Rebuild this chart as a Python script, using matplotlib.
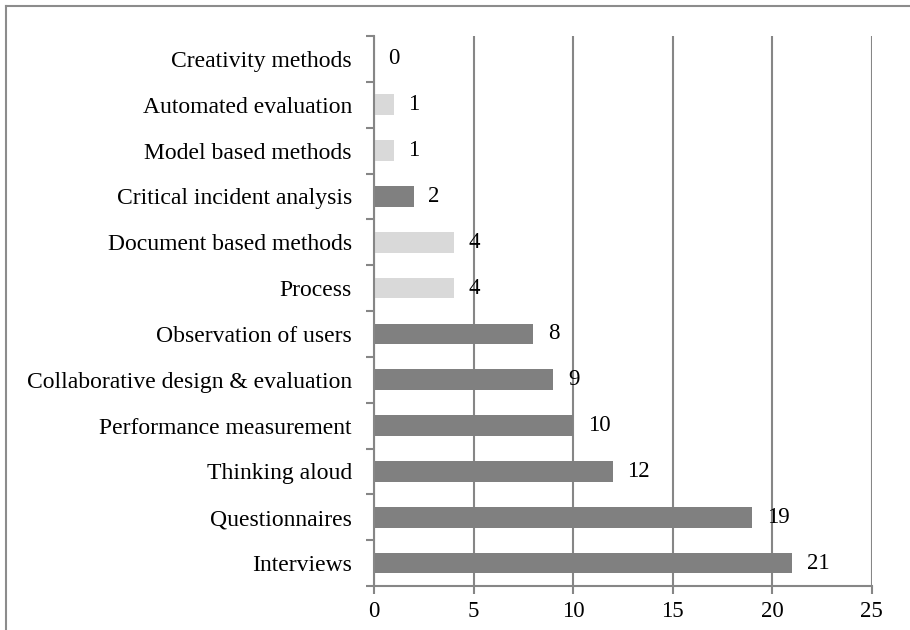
import matplotlib.pyplot as plt
from matplotlib.lines import Line2D
import numpy as np

plt.rcParams['font.family'] = ['Liberation Serif', 'DejaVu Serif']

# bottom to top
categories = ["Interviews", "Questionnaires", "Thinking aloud",
              "Performance measurement", "Collaborative design & evaluation",
              "Observation of users", "Process", "Document based methods",
              "Critical incident analysis", "Model based methods",
              "Automated evaluation", "Creativity methods"]
counts = [21, 19, 12, 10, 9, 8, 4, 4, 2, 1, 1, 0]
shade = ["dark", "dark", "dark", "dark", "dark", "dark",
         "light", "light", "dark", "light", "light", "light"]

colors = {"dark": "#808080", "light": "#d9d9d9"}
axis_gray = "#868686"
label_size = 17
num_size = 16.5

fig = plt.figure(figsize=(9.1, 6.3), dpi=100)
ax = fig.add_axes([0.411, 0.0698, 0.547, 0.873])

y = np.arange(len(categories))
ax.barh(y, counts, height=0.45, color=[colors[s] for s in shade], zorder=3)

for yi, v in zip(y, counts):
    ax.annotate(str(v), (v, yi), xytext=(10.5, 0), textcoords='offset points',
                ha='left', va='center', fontsize=num_size, zorder=4)

ax.set_xlim(0, 25)
ax.set_ylim(-0.5, len(categories) - 0.5)
ax.set_xticks([0, 5, 10, 15, 20, 25])
ax.set_yticks(y)
ax.set_yticklabels(categories)
ax.set_yticks(np.arange(-0.5, len(categories), 1), minor=True)
ax.tick_params(axis='y', which='major', length=0, pad=16, labelsize=label_size)
ax.tick_params(axis='y', which='minor', length=6, width=1.5, color=axis_gray,
               direction='out')
ax.tick_params(axis='x', length=6, width=1.5, color=axis_gray, direction='out',
               labelsize=num_size, pad=5)

ax.grid(axis='x', color=axis_gray, linewidth=1.5, zorder=1)
for s in ['top', 'right']:
    ax.spines[s].set_visible(False)
for s in ['left', 'bottom']:
    ax.spines[s].set_color(axis_gray)
    ax.spines[s].set_linewidth(1.5)
    ax.spines[s].set_zorder(5)

# frame around the chart (top and left edges visible)
fig.add_artist(Line2D([6 / 910, 1.0], [1 - 6 / 630, 1 - 6 / 630],
                      transform=fig.transFigure, color="#8c8c8c", linewidth=1.5))
fig.add_artist(Line2D([6 / 910, 6 / 910], [0.0, 1 - 6 / 630],
                      transform=fig.transFigure, color="#8c8c8c", linewidth=1.5))

plt.savefig("out.png", dpi=100)
